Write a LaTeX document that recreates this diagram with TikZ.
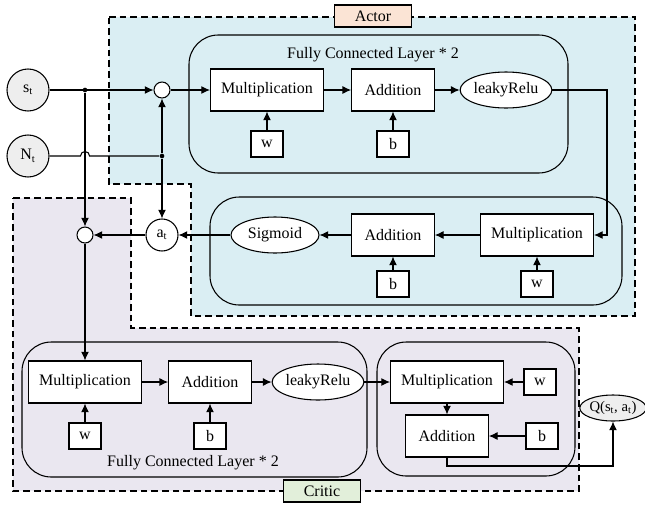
\documentclass[tikz,border=0pt]{standalone}
\usepackage{fontspec}
\setmainfont{Liberation Serif}
\usetikzlibrary{arrows.meta,shapes.geometric}

\definecolor{actorbg}{RGB}{218,238,243}
\definecolor{criticbg}{RGB}{234,231,240}
\definecolor{actortag}{RGB}{251,228,213}
\definecolor{critictag}{RGB}{226,239,218}
\definecolor{inputgray}{RGB}{238,238,238}

\begin{document}
\begin{tikzpicture}[x=0.75pt,y=-0.75pt,line width=0.8pt,
  font=\fontsize{12}{14}\selectfont, >={Latex[length=6.5pt,width=6pt]},
  op/.style={draw,fill=white,minimum height=31.5pt,inner sep=0pt},
  mult/.style={op,minimum width=84.75pt},
  add/.style={op,minimum width=62pt},
  param/.style={draw,fill=white,minimum width=24pt,minimum height=19.5pt,inner sep=0pt},
  act/.style={ellipse,draw,fill=white,minimum width=66pt,minimum height=27pt,inner sep=0pt},
  var/.style={circle,draw,fill=inputgray,minimum size=31.5pt,inner sep=0pt},
  junc/.style={circle,draw,fill=white,minimum size=12pt,inner sep=0pt},
  dot/.style={circle,fill,inner sep=0pt,minimum size=3.5pt},
  layer/.style={draw,rounded corners=22pt},
  region/.style={draw,dash pattern=on 5pt off 3pt},
  tag/.style={draw,minimum width=57.75pt,minimum height=16.5pt,inner sep=0pt}]
  \useasboundingbox (0,0) rectangle (645,504);

  % actor and critic areas
  \draw[region,fill=actorbg] (109,17) -- (635,17) -- (635,316) -- (191,316)
    -- (191,184) -- (109,184) -- cycle;
  \draw[region,fill=criticbg] (13,198) -- (131,198) -- (131,328) -- (579,328)
    -- (579,491) -- (13,491) -- cycle;
  \node[tag,fill=actortag] (actor) at (373,16) {Actor};
  \node[tag,fill=critictag] (critic) at (322,491) {Critic};

  % layers
  \draw[layer] (189,35) rectangle (568,173);
  \draw[layer] (210,197) rectangle (622,305);
  \draw[layer] (22,342) rectangle (367,477);
  \draw[layer] (377,342) rectangle (575,476);
  \node (fcA) at (373,55) {Fully Connected Layer * 2};
  \node (fcC) at (193,463) {Fully Connected Layer * 2};

  % inputs
  \node[var] (s) at (28,90) {s\textsubscript{t}};
  \node[var] (n) at (28,156) {N\textsubscript{t}};
  \node[dot] (d1) at (85,90) {};
  \node[dot] (d2) at (162,156) {};
  \node[junc] (ja) at (162,90) {};
  \node[junc] (jc) at (85,235) {};
  \node[circle,draw,fill=white,minimum size=24pt,inner sep=0pt] (a) at (162,235) {a\textsubscript{t}};

  % actor
  \node[mult] (m1) at (267,90) {Multiplication};
  \node[param] (w1) at (267,144) {w};
  \node[add] (p1) at (393,90) {Addition};
  \node[param] (b1) at (393,144) {b};
  \node[act] (r1) at (506,90) {leakyRelu};
  \node[mult] (m2) at (537,235) {Multiplication};
  \node[param] (w2) at (537,284) {w};
  \node[add] (p2) at (393,235) {Addition};
  \node[param] (b2) at (393,284) {b};
  \node[act] (sg) at (275,235) {Sigmoid};

  % critic
  \node[mult] (m3) at (85,382) {Multiplication};
  \node[param] (w3) at (85,436) {w};
  \node[add] (p3) at (210,382) {Addition};
  \node[param] (b3) at (210,436) {b};
  \node[act] (r3) at (318,382) {leakyRelu};
  \node[mult] (m4) at (447,382) {Multiplication};
  \node[param] (w4) at (540,382) {w};
  \node[add] (p4) at (447,436) {Addition};
  \node[param] (b4) at (542,436) {b};
  \node[ellipse,draw,fill=inputgray,minimum width=46pt,minimum height=19.5pt,inner sep=0pt,
    font=\fontsize{11}{13}\selectfont] (q) at (613,408) {Q(s\textsubscript{t}, a\textsubscript{t})};

  \coordinate (hop) at (80.5,156);
  \coordinate (k1) at (607,90);
  \coordinate (k2) at (530,466);

  \draw (n) -- (hop) arc[start angle=180,end angle=0,radius=3.4pt] -- (d2);
  \path[->]
  (s) edge (ja)
  (ja) edge (m1)
  (m1) edge (p1)
  (p1) edge (r1)
  (w1) edge (m1)
  (b1) edge (p1)
  (d2) edge (ja)
  edge (a)
  (d1) edge (jc)
  (a) edge (jc)
  (sg) edge (a)
  (p2) edge (sg)
  (m2) edge (p2)
  (w2) edge (m2)
  (b2) edge (p2)
  (jc) edge (m3)
  (m3) edge (p3)
  (w3) edge (m3)
  (b3) edge (p3)
  (p3) edge (r3)
  (r3) edge (m4)
  (w4) edge (m4)
  (m4) edge (p4)
  (b4) edge (p4)
;
  \draw[->] (r1) -- (k1) |- (m2);
  \draw[->] (p4.south) |- (k2) -| (q);
\end{tikzpicture}
\end{document}
